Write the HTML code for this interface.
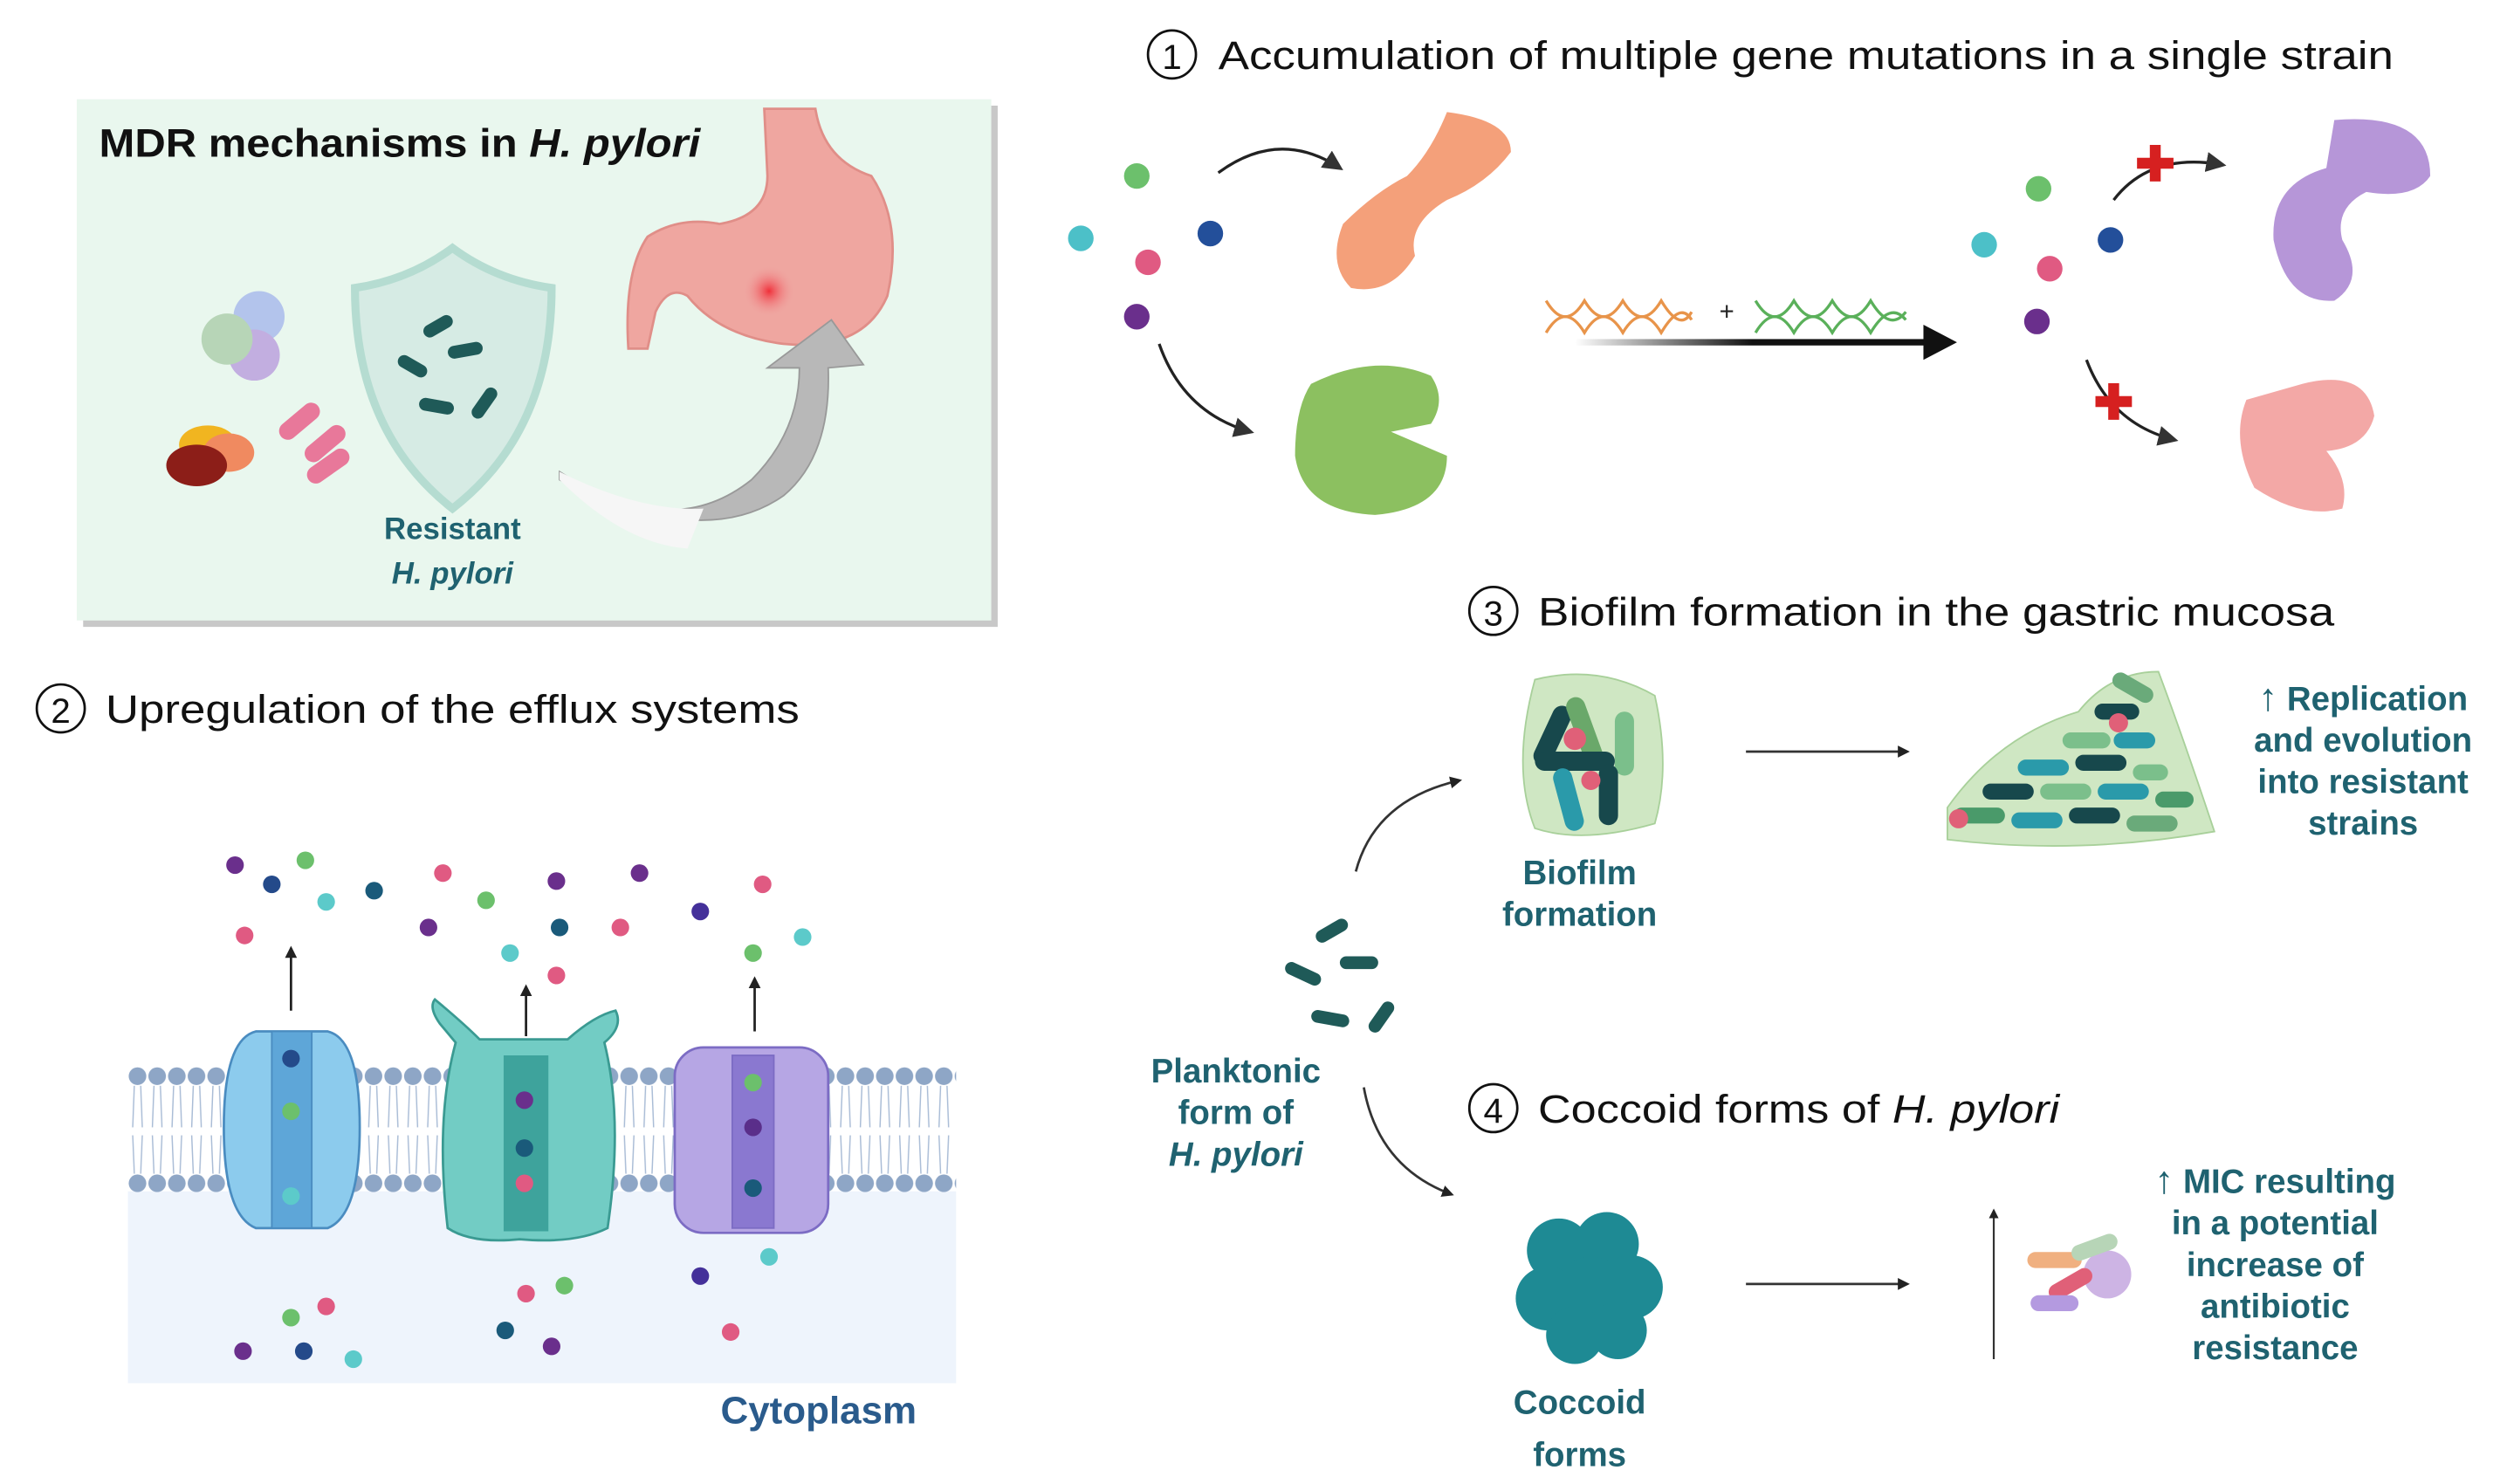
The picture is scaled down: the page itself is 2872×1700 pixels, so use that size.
<!DOCTYPE html>
<html><head><meta charset="utf-8"><style>
html,body{margin:0;padding:0;background:#fff}
svg{display:block}
text{font-family:"Liberation Sans",sans-serif}
</style></head><body>
<svg width="2872" height="1700" viewBox="0 0 1568 928" xmlns="http://www.w3.org/2000/svg">
<defs>
<marker id="ah" viewBox="0 0 10 10" refX="8" refY="5" markerWidth="5" markerHeight="5" orient="auto"><path d="M0,0L10,5L0,10z" fill="#222"/></marker>
<marker id="ahs" viewBox="0 0 10 10" refX="8" refY="5" markerWidth="7" markerHeight="7" orient="auto"><path d="M0,0L10,5L0,10z" fill="#333"/></marker>
<pattern id="lip" x="80" y="0" width="12.3" height="928" patternUnits="userSpaceOnUse">
<circle cx="6" cy="673" r="5.5" fill="#8ea6c6"/><circle cx="6" cy="740" r="5.5" fill="#8ea6c6"/>
<path d="M4,679L3,705M8,679L9,705M4,734L3,710M8,734L9,710" stroke="#a9bcd6" stroke-width="0.8"/>
</pattern>
<linearGradient id="ga" x1="0" x2="1" y1="0" y2="0"><stop offset="0" stop-color="#fff"/><stop offset="0.5" stop-color="#111"/><stop offset="1" stop-color="#111"/></linearGradient>
<radialGradient id="rs"><stop offset="0" stop-color="#f0303a"/><stop offset="1" stop-color="#f0a0a0" stop-opacity="0"/></radialGradient>
</defs>

<!-- MDR box -->
<rect x="52" y="66" width="572" height="326" fill="#c8c8c8"/>
<rect x="48" y="62" width="572" height="326" fill="#e9f7ee"/>
<text x="62" y="98" font-size="25" font-weight="bold" fill="#111" textLength="376" lengthAdjust="spacingAndGlyphs">MDR mechanisms in <tspan font-style="italic">H. pylori</tspan></text>
<!-- stomach -->
<path d="M478,68 L510,68 Q515,100 545,110 Q565,140 555,185 Q540,220 490,215 Q450,210 430,185 Q418,178 410,195 L405,218 L393,218 Q390,170 405,148 Q425,135 450,140 Q480,135 480,110 Z" fill="#efa6a0" stroke="#e08e88" stroke-width="1.5"/>
<circle cx="481" cy="182" r="16" fill="url(#rs)"/>
<!-- curved arrow -->
<path d="M350,295 Q420,340 470,300 Q500,270 500,230 L480,230 L520,200 L540,228 L518,230 Q520,285 490,310 Q440,345 350,300 Z" fill="#b8b8b8" stroke="#999" stroke-width="1"/>
<path d="M350,295 Q400,320 440,318 L430,343 Q390,340 350,300Z" fill="#f6f6f6"/>
<!-- shield -->
<path d="M283,155 Q310,175 345,180 Q345,270 283,318 Q222,270 222,180 Q256,175 283,155Z" fill="#d6ebe4" stroke="#b5dcd1" stroke-width="5"/>
<g fill="#1f5a58">
<rect x="264" y="200" width="20" height="8" rx="4" transform="rotate(-30 274 204)"/>
<rect x="280" y="215" width="22" height="8" rx="4" transform="rotate(-10 291 219)"/>
<rect x="248" y="225" width="20" height="8" rx="4" transform="rotate(30 258 229)"/>
<rect x="262" y="250" width="22" height="8" rx="4" transform="rotate(10 273 254)"/>
<rect x="292" y="248" width="22" height="8" rx="4" transform="rotate(-55 303 252)"/>
</g>
<text x="283" y="337" font-size="19" font-weight="bold" fill="#1f6270" text-anchor="middle">Resistant</text>
<text x="283" y="365" font-size="19" font-weight="bold" font-style="italic" fill="#1f6270" text-anchor="middle">H. pylori</text>
<!-- pills -->
<circle cx="162" cy="198" r="16" fill="#b3c4ec"/><circle cx="159" cy="222" r="16" fill="#c2aee0"/><circle cx="142" cy="212" r="16" fill="#b7d5b7"/>
<ellipse cx="130" cy="278" rx="18" ry="12" fill="#f1b520"/><ellipse cx="143" cy="283" rx="16" ry="12" fill="#f08a60"/><ellipse cx="123" cy="291" rx="19" ry="13" fill="#8c1e18"/>
<rect x="172" y="258" width="30" height="11" rx="5.5" fill="#e8789a" transform="rotate(-40 187 263)"/>
<rect x="188" y="272" width="30" height="11" rx="5.5" fill="#e8789a" transform="rotate(-40 203 277)"/>
<rect x="190" y="286" width="30" height="11" rx="5.5" fill="#e8789a" transform="rotate(-35 205 291)"/>

<!-- section 1 -->
<circle cx="733" cy="34" r="15" fill="none" stroke="#111" stroke-width="1.5"/>
<text x="733" y="43" font-size="22" text-anchor="middle" fill="#111">1</text>
<text x="762" y="43" font-size="25" fill="#111" textLength="735" lengthAdjust="spacingAndGlyphs">Accumulation of multiple gene mutations in a single strain</text>
<ellipse cx="711" cy="110" rx="8" ry="8" fill="#6cc06c"/><ellipse cx="676" cy="149" rx="8" ry="8" fill="#4cc0c8"/>
<ellipse cx="757" cy="146" rx="8" ry="8" fill="#234f9a"/><ellipse cx="718" cy="164" rx="8" ry="8" fill="#e05a82"/><ellipse cx="711" cy="198" rx="8" ry="8" fill="#6a2f8c"/>
<path d="M762,108 Q800,80 838,105" fill="none" stroke="#222" stroke-width="1.8" marker-end="url(#ahs)"/>
<path d="M725,215 Q740,258 782,270" fill="none" stroke="#222" stroke-width="1.8" marker-end="url(#ahs)"/>
<path d="M905,70 Q945,75 945,95 Q930,115 905,125 Q880,140 885,160 Q870,185 845,180 Q830,165 840,140 Q860,120 880,110 Q895,95 905,70Z" fill="#f4a07a"/>
<path d="M820,240 Q860,220 895,235 Q905,250 895,265 L870,270 L905,285 Q905,318 860,322 Q815,320 810,285 Q810,255 820,240Z" fill="#8cc060"/>
<g fill="none" stroke-width="1.8">
<path d="M967,188 Q979,208 991,188 Q1003,208 1015,188 Q1027,208 1039,188 Q1051,208 1058,195" stroke="#e8944a"/>
<path d="M967,208 Q979,188 991,208 Q1003,188 1015,208 Q1027,188 1039,208 Q1051,188 1058,200" stroke="#e8944a"/>
<path d="M1098,188 Q1110,208 1122,188 Q1134,208 1146,188 Q1158,208 1170,188 Q1182,208 1192,195" stroke="#5ab05a"/>
<path d="M1098,208 Q1110,188 1122,208 Q1134,188 1146,208 Q1158,188 1170,208 Q1182,188 1192,200" stroke="#5ab05a"/>
</g>
<text x="1080" y="200" font-size="16" fill="#222" text-anchor="middle">+</text>
<rect x="985" y="212" width="222" height="4" fill="url(#ga)"/>
<path d="M1203,203 L1224,214 L1203,225Z" fill="#111"/>
<ellipse cx="1275" cy="118" rx="8" ry="8" fill="#6cc06c"/><ellipse cx="1241" cy="153" rx="8" ry="8" fill="#4cc0c8"/>
<ellipse cx="1320" cy="150" rx="8" ry="8" fill="#234f9a"/><ellipse cx="1282" cy="168" rx="8" ry="8" fill="#e05a82"/><ellipse cx="1274" cy="201" rx="8" ry="8" fill="#6a2f8c"/>
<path d="M1322,125 Q1345,95 1390,103" fill="none" stroke="#222" stroke-width="1.8" marker-end="url(#ahs)"/>
<path d="M1305,225 Q1320,265 1360,275" fill="none" stroke="#222" stroke-width="1.8" marker-end="url(#ahs)"/>
<text x="1348" y="113" font-size="30" font-weight="bold" fill="#d62020" text-anchor="middle">✚</text>
<text x="1322" y="262" font-size="30" font-weight="bold" fill="#d62020" text-anchor="middle">✚</text>
<path d="M1460,75 Q1520,70 1520,110 Q1510,125 1480,120 Q1460,130 1465,150 Q1480,175 1460,188 Q1430,190 1422,150 Q1420,115 1455,105Z" fill="#b696d8"/>
<path d="M1440,240 Q1480,230 1485,260 Q1480,280 1455,282 Q1470,300 1465,318 Q1440,325 1410,305 Q1395,275 1405,250Z" fill="#f3a8a6"/>

<!-- section 2 -->
<circle cx="38" cy="443" r="15" fill="none" stroke="#111" stroke-width="1.5"/>
<text x="38" y="452" font-size="22" text-anchor="middle" fill="#111">2</text>
<text x="66" y="452" font-size="25" fill="#111" textLength="434" lengthAdjust="spacingAndGlyphs">Upregulation of the efflux systems</text>
<rect x="80" y="745" width="518" height="120" fill="#eef4fc"/>
<rect x="80" y="665" width="518" height="82" fill="url(#lip)"/>
<text x="512" y="890" font-size="24" font-weight="bold" fill="#2a5b8c" text-anchor="middle">Cytoplasm</text>
<!-- proteins -->
<path d="M160,645 Q140,650 140,705 Q140,760 160,768 L205,768 Q225,760 225,705 Q225,650 205,645Z" fill="#8ccbed" stroke="#4a8cc0" stroke-width="1.5"/>
<rect x="170" y="645" width="25" height="123" fill="#5ea6d8" stroke="#4a8cc0"/>
<path d="M275,640 Q268,630 272,625 Q290,640 300,650 L355,650 Q372,635 385,632 Q390,642 378,652 Q390,700 380,768 Q360,778 325,775 Q295,778 280,768 Q272,700 285,652Z" fill="#72ccc4" stroke="#3a9a92" stroke-width="1.5"/>
<rect x="315" y="660" width="28" height="110" fill="#3ea39c"/>
<rect x="422" y="655" width="96" height="116" rx="18" fill="#b6a6e4" stroke="#7c6cc4" stroke-width="1.5"/>
<rect x="458" y="660" width="26" height="108" fill="#8a78d0" stroke="#7c6cc4"/>
<g>
<circle cx="182" cy="662" r="5.5" fill="#244a8a"/><circle cx="182" cy="695" r="5.5" fill="#6cc06c"/><circle cx="182" cy="748" r="5.5" fill="#5ccaca"/>
<circle cx="328" cy="688" r="5.5" fill="#6a2f8c"/><circle cx="328" cy="718" r="5.5" fill="#1a5a7a"/><circle cx="328" cy="740" r="5.5" fill="#e05a82"/>
<circle cx="471" cy="677" r="5.5" fill="#6cc06c"/><circle cx="471" cy="705" r="5.5" fill="#5a2e8a"/><circle cx="471" cy="743" r="5.5" fill="#1a5a7a"/>
</g>
<line x1="182" y1="632" x2="182" y2="593" stroke="#222" stroke-width="1.5" marker-end="url(#ah)"/>
<line x1="329" y1="648" x2="329" y2="617" stroke="#222" stroke-width="1.5" marker-end="url(#ah)"/>
<line x1="472" y1="645" x2="472" y2="612" stroke="#222" stroke-width="1.5" marker-end="url(#ah)"/>
<g>
<circle cx="147" cy="541" r="5.5" fill="#6a2f8c"/><circle cx="191" cy="538" r="5.5" fill="#6cc06c"/><circle cx="170" cy="553" r="5.5" fill="#244a8a"/><circle cx="204" cy="564" r="5.5" fill="#5ccaca"/><circle cx="234" cy="557" r="5.5" fill="#1a5a7a"/><circle cx="153" cy="585" r="5.5" fill="#e05a82"/>
<circle cx="277" cy="546" r="5.5" fill="#e05a82"/><circle cx="304" cy="563" r="5.5" fill="#6cc06c"/><circle cx="348" cy="551" r="5.5" fill="#6a2f8c"/><circle cx="400" cy="546" r="5.5" fill="#6a2f8c"/><circle cx="268" cy="580" r="5.5" fill="#6a2f8c"/><circle cx="350" cy="580" r="5.5" fill="#1a5a7a"/><circle cx="388" cy="580" r="5.5" fill="#e05a82"/><circle cx="319" cy="596" r="5.5" fill="#5ccaca"/><circle cx="348" cy="610" r="5.5" fill="#e05a82"/>
<circle cx="477" cy="553" r="5.5" fill="#e05a82"/><circle cx="438" cy="570" r="5.5" fill="#44309a"/><circle cx="502" cy="586" r="5.5" fill="#5ccaca"/><circle cx="471" cy="596" r="5.5" fill="#6cc06c"/>
<circle cx="204" cy="817" r="5.5" fill="#e05a82"/><circle cx="182" cy="824" r="5.5" fill="#6cc06c"/><circle cx="152" cy="845" r="5.5" fill="#6a2f8c"/><circle cx="190" cy="845" r="5.5" fill="#244a8a"/><circle cx="221" cy="850" r="5.5" fill="#5ccaca"/>
<circle cx="329" cy="809" r="5.5" fill="#e05a82"/><circle cx="353" cy="804" r="5.5" fill="#6cc06c"/><circle cx="316" cy="832" r="5.5" fill="#1a5a7a"/><circle cx="345" cy="842" r="5.5" fill="#6a2f8c"/>
<circle cx="481" cy="786" r="5.5" fill="#5ccaca"/><circle cx="438" cy="798" r="5.5" fill="#44309a"/><circle cx="457" cy="833" r="5.5" fill="#e05a82"/>
</g>

<!-- section 3 -->
<circle cx="934" cy="382" r="15" fill="none" stroke="#111" stroke-width="1.5"/>
<text x="934" y="391" font-size="22" text-anchor="middle" fill="#111">3</text>
<text x="962" y="391" font-size="25" fill="#111" textLength="498" lengthAdjust="spacingAndGlyphs">Biofilm formation in the gastric mucosa</text>
<path d="M960,425 Q1000,415 1035,435 Q1045,480 1035,515 Q990,528 960,518 Q945,480 960,425Z" fill="#cfe7c3" stroke="#a8d09a"/>
<g>
<rect x="965" y="440" width="12" height="40" rx="6" fill="#17484c" transform="rotate(25 971 460)"/>
<rect x="985" y="435" width="12" height="45" rx="6" fill="#6aa86a" transform="rotate(-20 991 457)"/>
<rect x="1010" y="445" width="12" height="40" rx="6" fill="#7bbf8b"/>
<rect x="960" y="470" width="50" height="12" rx="6" fill="#17484c"/>
<rect x="975" y="480" width="12" height="40" rx="6" fill="#2a9aaa" transform="rotate(-15 981 500)"/>
<rect x="1000" y="478" width="12" height="38" rx="6" fill="#17484c"/>
<circle cx="985" cy="462" r="7" fill="#e06078"/><circle cx="995" cy="488" r="6" fill="#e06078"/>
</g>
<path d="M1218,505 Q1250,460 1300,445 Q1320,420 1350,420 Q1365,460 1385,520 Q1300,535 1218,525Z" fill="#cfe7c3" stroke="#a8d09a"/>
<g>
<rect x="1222" y="505" width="32" height="10" rx="5" fill="#4a9a6a"/><rect x="1258" y="508" width="32" height="10" rx="5" fill="#2a9aaa"/><rect x="1294" y="505" width="32" height="10" rx="5" fill="#17484c"/><rect x="1330" y="510" width="32" height="10" rx="5" fill="#6aaa7a"/>
<rect x="1240" y="490" width="32" height="10" rx="5" fill="#17484c"/><rect x="1276" y="490" width="32" height="10" rx="5" fill="#7bbf8b"/><rect x="1312" y="490" width="32" height="10" rx="5" fill="#2a9aaa"/><rect x="1348" y="495" width="24" height="10" rx="5" fill="#4a9a6a"/>
<rect x="1262" y="475" width="32" height="10" rx="5" fill="#2a9aaa"/><rect x="1298" y="472" width="32" height="10" rx="5" fill="#17484c"/><rect x="1334" y="478" width="22" height="10" rx="5" fill="#7bbf8b"/>
<rect x="1290" y="458" width="30" height="10" rx="5" fill="#7bbf8b"/><rect x="1322" y="458" width="26" height="10" rx="5" fill="#2a9aaa"/>
<rect x="1310" y="440" width="28" height="10" rx="5" fill="#17484c"/><rect x="1320" y="425" width="28" height="10" rx="5" fill="#6aaa7a" transform="rotate(30 1334 430)"/>
<circle cx="1225" cy="512" r="6" fill="#e06078"/><circle cx="1325" cy="452" r="6" fill="#e06078"/>
</g>
<line x1="1092" y1="470" x2="1193" y2="470" stroke="#333" stroke-width="1.5" marker-end="url(#ah)"/>
<g font-size="21" font-weight="bold" fill="#1f6270" text-anchor="middle">
<text x="1478" y="444"><tspan font-size="24">↑</tspan> Replication</text><text x="1478" y="470">and evolution</text><text x="1478" y="496">into resistant</text><text x="1478" y="522">strains</text>
<text x="988" y="553">Biofilm</text><text x="988" y="579">formation</text>
<text x="773" y="677">Planktonic</text><text x="773" y="703">form of</text><text x="773" y="729" font-style="italic">H. pylori</text>
<text x="988" y="884">Coccoid</text><text x="988" y="917">forms</text>
<text x="1423" y="746"><tspan font-size="24">↑</tspan> MIC resulting</text><text x="1423" y="772">in a potential</text><text x="1423" y="798">increase of</text><text x="1423" y="824">antibiotic</text><text x="1423" y="850">resistance</text>
</g>
<!-- planktonic -->
<g fill="#1f5a58">
<rect x="822" y="578" width="22" height="8" rx="4" transform="rotate(-30 833 582)"/>
<rect x="838" y="598" width="24" height="8" rx="4"/>
<rect x="803" y="605" width="24" height="8" rx="4" transform="rotate(25 815 609)"/>
<rect x="820" y="633" width="24" height="8" rx="4" transform="rotate(10 832 637)"/>
<rect x="853" y="632" width="22" height="8" rx="4" transform="rotate(-55 864 636)"/>
</g>
<path d="M848,545 Q860,500 913,488" fill="none" stroke="#333" stroke-width="1.5" marker-end="url(#ah)"/>
<path d="M853,680 Q862,730 908,747" fill="none" stroke="#333" stroke-width="1.5" marker-end="url(#ah)"/>

<!-- section 4 -->
<circle cx="934" cy="693" r="15" fill="none" stroke="#111" stroke-width="1.5"/>
<text x="934" y="702" font-size="22" text-anchor="middle" fill="#111">4</text>
<text x="962" y="702" font-size="25" fill="#111" textLength="326" lengthAdjust="spacingAndGlyphs">Coccoid forms of <tspan font-style="italic">H. pylori</tspan></text>
<g fill="#1e8a94">
<circle cx="975" cy="782" r="20"/><circle cx="1005" cy="778" r="20"/><circle cx="1020" cy="805" r="20"/><circle cx="968" cy="812" r="20"/><circle cx="995" cy="808" r="22"/><circle cx="985" cy="835" r="18"/><circle cx="1012" cy="832" r="18"/>
</g>
<line x1="1092" y1="803" x2="1193" y2="803" stroke="#333" stroke-width="1.5" marker-end="url(#ah)"/>
<line x1="1247" y1="850" x2="1247" y2="757" stroke="#333" stroke-width="1.2" marker-end="url(#ah)"/>
<circle cx="1318" cy="797" r="15" fill="#cdb4e4"/>
<rect x="1268" y="783" width="34" height="10" rx="5" fill="#f0b080"/>
<rect x="1295" y="775" width="30" height="10" rx="5" fill="#b7d5b7" transform="rotate(-20 1310 780)"/>
<rect x="1280" y="798" width="30" height="10" rx="5" fill="#e06078" transform="rotate(-30 1295 803)"/>
<rect x="1270" y="810" width="30" height="10" rx="5" fill="#b49ae0"/>
</svg>
</body></html>
